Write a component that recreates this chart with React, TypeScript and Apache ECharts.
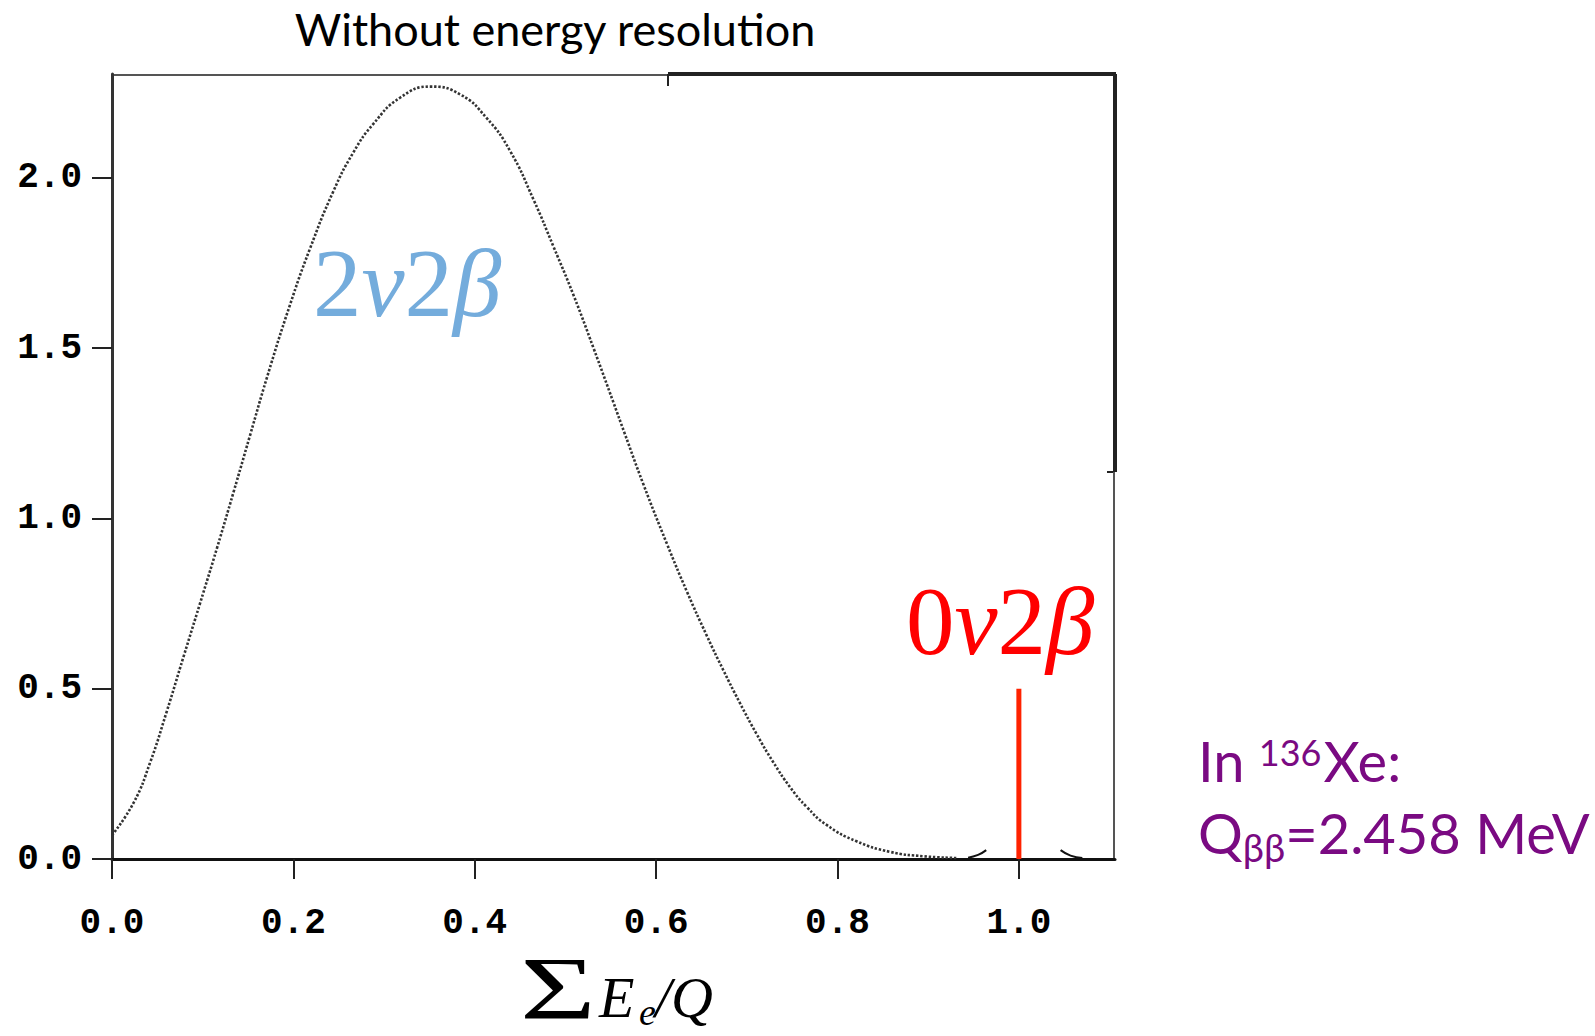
import React, { useEffect, useRef } from "react";
import * as echarts from "echarts";

// Summed electron energy (fraction of Q) and 2νββ spectrum height
const SUM_E: number[] = [
  0.0, 0.024, 0.042, 0.06, 0.079, 0.097, 0.116, 0.134, 0.152, 0.171, 0.196,
  0.218, 0.244, 0.266, 0.288, 0.318, 0.351, 0.384, 0.413, 0.439, 0.465, 0.487,
  0.509, 0.531, 0.553, 0.565, 0.586, 0.612, 0.634, 0.656, 0.674, 0.692, 0.711,
  0.729, 0.748, 0.766, 0.788, 0.821, 0.858, 0.895, 0.931,
];
const SPECTRUM_2NU: number[] = [
  0.07, 0.166, 0.283, 0.43, 0.595, 0.75, 0.915, 1.077, 1.242, 1.415, 1.625,
  1.79, 1.96, 2.074, 2.158, 2.236, 2.268, 2.245, 2.176, 2.079, 1.935, 1.797,
  1.655, 1.5, 1.34, 1.252, 1.1, 0.925, 0.785, 0.655, 0.555, 0.46, 0.366,
  0.285, 0.21, 0.153, 0.1, 0.052, 0.021, 0.008, 0.003,
];

// Small solid tails on either side of the endpoint
const TAIL_LEFT_X: number[] = [0.944, 0.955, 0.964];
const TAIL_LEFT_Y: number[] = [0.004, 0.012, 0.026];
const TAIL_RIGHT_X: number[] = [1.046, 1.057, 1.07];
const TAIL_RIGHT_Y: number[] = [0.026, 0.01, 0.003];

// 0νββ line at the Q value
const PEAK_X: number[] = [1.0, 1.0];
const PEAK_Y: number[] = [0.0, 0.5];

const X_TICKS: number[] = [0.0, 0.2, 0.4, 0.6, 0.8, 1.0];
const Y_TICKS: number[] = [0.0, 0.5, 1.0, 1.5, 2.0];
const X_MAX = 1.106;
const Y_MAX = 2.305;

const zip = (xs: number[], ys: number[]) => xs.map((x, i) => [x, ys[i]]);

// plot frame in page pixels
const G_LEFT = 112;
const G_TOP = 74;
const G_RIGHT = 1115;
const G_BOTTOM = 859;

const TICK_FONT = "'Liberation Mono', 'DejaVu Sans Mono', monospace";
const SANS = "Lato, 'Open Sans', sans-serif";
const SERIF = "'Liberation Serif', 'DejaVu Serif', serif";
const PURPLE = "#7a0a82";

const txt = (
  x: number,
  y: number,
  text: string,
  size: number,
  fill: string,
  opts: {
    family?: string;
    italic?: boolean;
    align?: string;
    vAlign?: string;
    lineHeight?: number;
    scaleX?: number;
  } = {}
) => ({
  type: "text",
  x,
  y,
  scaleX: opts.scaleX || 1,
  style: {
    text,
    fontFamily: opts.family || SERIF,
    fontSize: size,
    fontStyle: opts.italic ? "italic" : "normal",
    lineHeight: opts.lineHeight,
    fill,
    align: opts.align || "left",
    textAlign: opts.align || "left",
    verticalAlign: opts.vAlign || "middle",
    textVerticalAlign: opts.vAlign || "middle",
  },
});

export default function App() {
  const ref = useRef<HTMLDivElement>(null);

  useEffect(() => {
    if (!ref.current) return;
    const chart = echarts.init(ref.current, undefined, { renderer: "svg" });

    const mathRich = (color: string) => ({
      d: { fontFamily: SERIF, fontSize: 97, fontStyle: "normal", fill: color },
      i: { fontFamily: SERIF, fontSize: 97, fontStyle: "italic", fill: color },
    });

    const option: any = {
      animation: false,
      backgroundColor: "#ffffff",
      grid: {
        left: G_LEFT,
        top: G_TOP,
        right: 1595 - G_RIGHT,
        bottom: 1036 - G_BOTTOM,
        containLabel: false,
      },
      xAxis: {
        type: "value",
        min: 0,
        max: X_MAX,
        splitLine: { show: false },
        axisLine: { show: true, onZero: false, lineStyle: { color: "#111", width: 3 } },
        axisTick: {
          show: true,
          length: 20,
          customValues: X_TICKS,
          lineStyle: { color: "#222", width: 2 },
        },
        axisLabel: {
          customValues: X_TICKS,
          margin: 46,
          formatter: (v: number) => v.toFixed(1),
          fontFamily: TICK_FONT,
          fontWeight: "bold",
          fontSize: 36,
          color: "#000",
        },
      },
      yAxis: {
        type: "value",
        min: 0,
        max: Y_MAX,
        splitLine: { show: false },
        axisLine: { show: true, onZero: false, lineStyle: { color: "#333", width: 3 } },
        axisTick: {
          show: true,
          length: 20,
          customValues: Y_TICKS,
          lineStyle: { color: "#222", width: 2 },
        },
        axisLabel: {
          customValues: Y_TICKS,
          margin: 30,
          formatter: (v: number) => v.toFixed(1),
          fontFamily: TICK_FONT,
          fontWeight: "bold",
          fontSize: 36,
          color: "#000",
        },
      },
      series: [
        {
          name: "2νββ",
          type: "line",
          data: zip(SUM_E, SPECTRUM_2NU),
          smooth: 0.5,
          showSymbol: false,
          lineStyle: { color: "#333", width: 2.6, type: [2.4, 1.8] },
          z: 3,
        },
        {
          name: "tail-left",
          type: "line",
          data: zip(TAIL_LEFT_X, TAIL_LEFT_Y),
          smooth: true,
          showSymbol: false,
          lineStyle: { color: "#111", width: 2 },
        },
        {
          name: "tail-right",
          type: "line",
          data: zip(TAIL_RIGHT_X, TAIL_RIGHT_Y),
          smooth: true,
          showSymbol: false,
          lineStyle: { color: "#111", width: 2 },
        },
        {
          name: "0νββ",
          type: "line",
          data: zip(PEAK_X, PEAK_Y),
          showSymbol: false,
          lineStyle: { color: "#ff2200", width: 5 },
          z: 4,
        },
      ],
      graphic: [
        // frame: top edge, thin on the left part, heavy on the right part
        {
          type: "line",
          shape: { x1: G_LEFT, y1: G_TOP + 1, x2: 668, y2: G_TOP + 1 },
          style: { stroke: "#555", lineWidth: 2 },
        },
        {
          type: "line",
          shape: { x1: 668, y1: G_TOP, x2: G_RIGHT + 1, y2: G_TOP },
          style: { stroke: "#222", lineWidth: 4 },
        },
        {
          type: "line",
          shape: { x1: 668, y1: G_TOP, x2: 668, y2: G_TOP + 12 },
          style: { stroke: "#222", lineWidth: 2 },
        },
        // frame: right edge, heavy upper part, thin lower part
        {
          type: "line",
          shape: { x1: G_RIGHT, y1: G_TOP, x2: G_RIGHT, y2: 472 },
          style: { stroke: "#222", lineWidth: 4 },
        },
        {
          type: "line",
          shape: { x1: G_RIGHT - 8, y1: 472, x2: G_RIGHT, y2: 472 },
          style: { stroke: "#222", lineWidth: 2 },
        },
        {
          type: "line",
          shape: { x1: G_RIGHT - 1, y1: 472, x2: G_RIGHT - 1, y2: G_BOTTOM },
          style: { stroke: "#555", lineWidth: 2 },
        },
        // title
        txt(555, 29, "Without energy resolution", 45, "#000", { family: SANS, align: "center" }),
        // 2νββ label
        {
          type: "text",
          x: 313,
          y: 283,
          style: {
            text: "{d|2}{i|ν}{d|2}{i|β}",
            align: "left",
            verticalAlign: "middle",
            textAlign: "left",
            textVerticalAlign: "middle",
            rich: mathRich("#74acdc"),
          },
        },
        // 0νββ label
        {
          type: "text",
          x: 906,
          y: 621,
          style: {
            text: "{d|0}{i|ν}{d|2}{i|β}",
            align: "left",
            verticalAlign: "middle",
            textAlign: "left",
            textVerticalAlign: "middle",
            rich: mathRich("#ff0000"),
          },
        },
        // x-axis title: Σ E_e / Q
        txt(558, 988, "Σ", 88, "#000", { align: "center", lineHeight: 64, scaleX: 1.48 }),
        txt(599, 997, "E", 58, "#000", { italic: true, lineHeight: 60 }),
        txt(639, 1012, "e", 38, "#000", { italic: true, lineHeight: 40 }),
        txt(655, 997, "/Q", 58, "#000", { italic: true, lineHeight: 60 }),
        // isotope note
        {
          type: "text",
          x: 1198,
          y: 724,
          style: {
            text: "{n|In }{sup|136}{n|Xe:}\n{n|Q}{sub|ββ}{n|=2.458 MeV}",
            align: "left",
            verticalAlign: "top",
            textAlign: "left",
            textVerticalAlign: "top",
            rich: {
              n: { fontFamily: SANS, fontSize: 56, lineHeight: 72, fill: PURPLE },
              sup: {
                fontFamily: SANS,
                fontSize: 36,
                verticalAlign: "top",
                padding: [10, 2, 0, 0],
                fill: PURPLE,
              },
              sub: {
                fontFamily: SANS,
                fontSize: 38,
                verticalAlign: "bottom",
                padding: [0, 0, 2, 0],
                fill: PURPLE,
              },
            },
          },
        },
      ],
    };

    chart.setOption(option);
    return () => chart.dispose();
  }, []);

  return (
    <div
      ref={ref}
      style={{ position: "fixed", left: 0, top: 0, width: 1595, height: 1036, background: "#fff" }}
    />
  );
}
